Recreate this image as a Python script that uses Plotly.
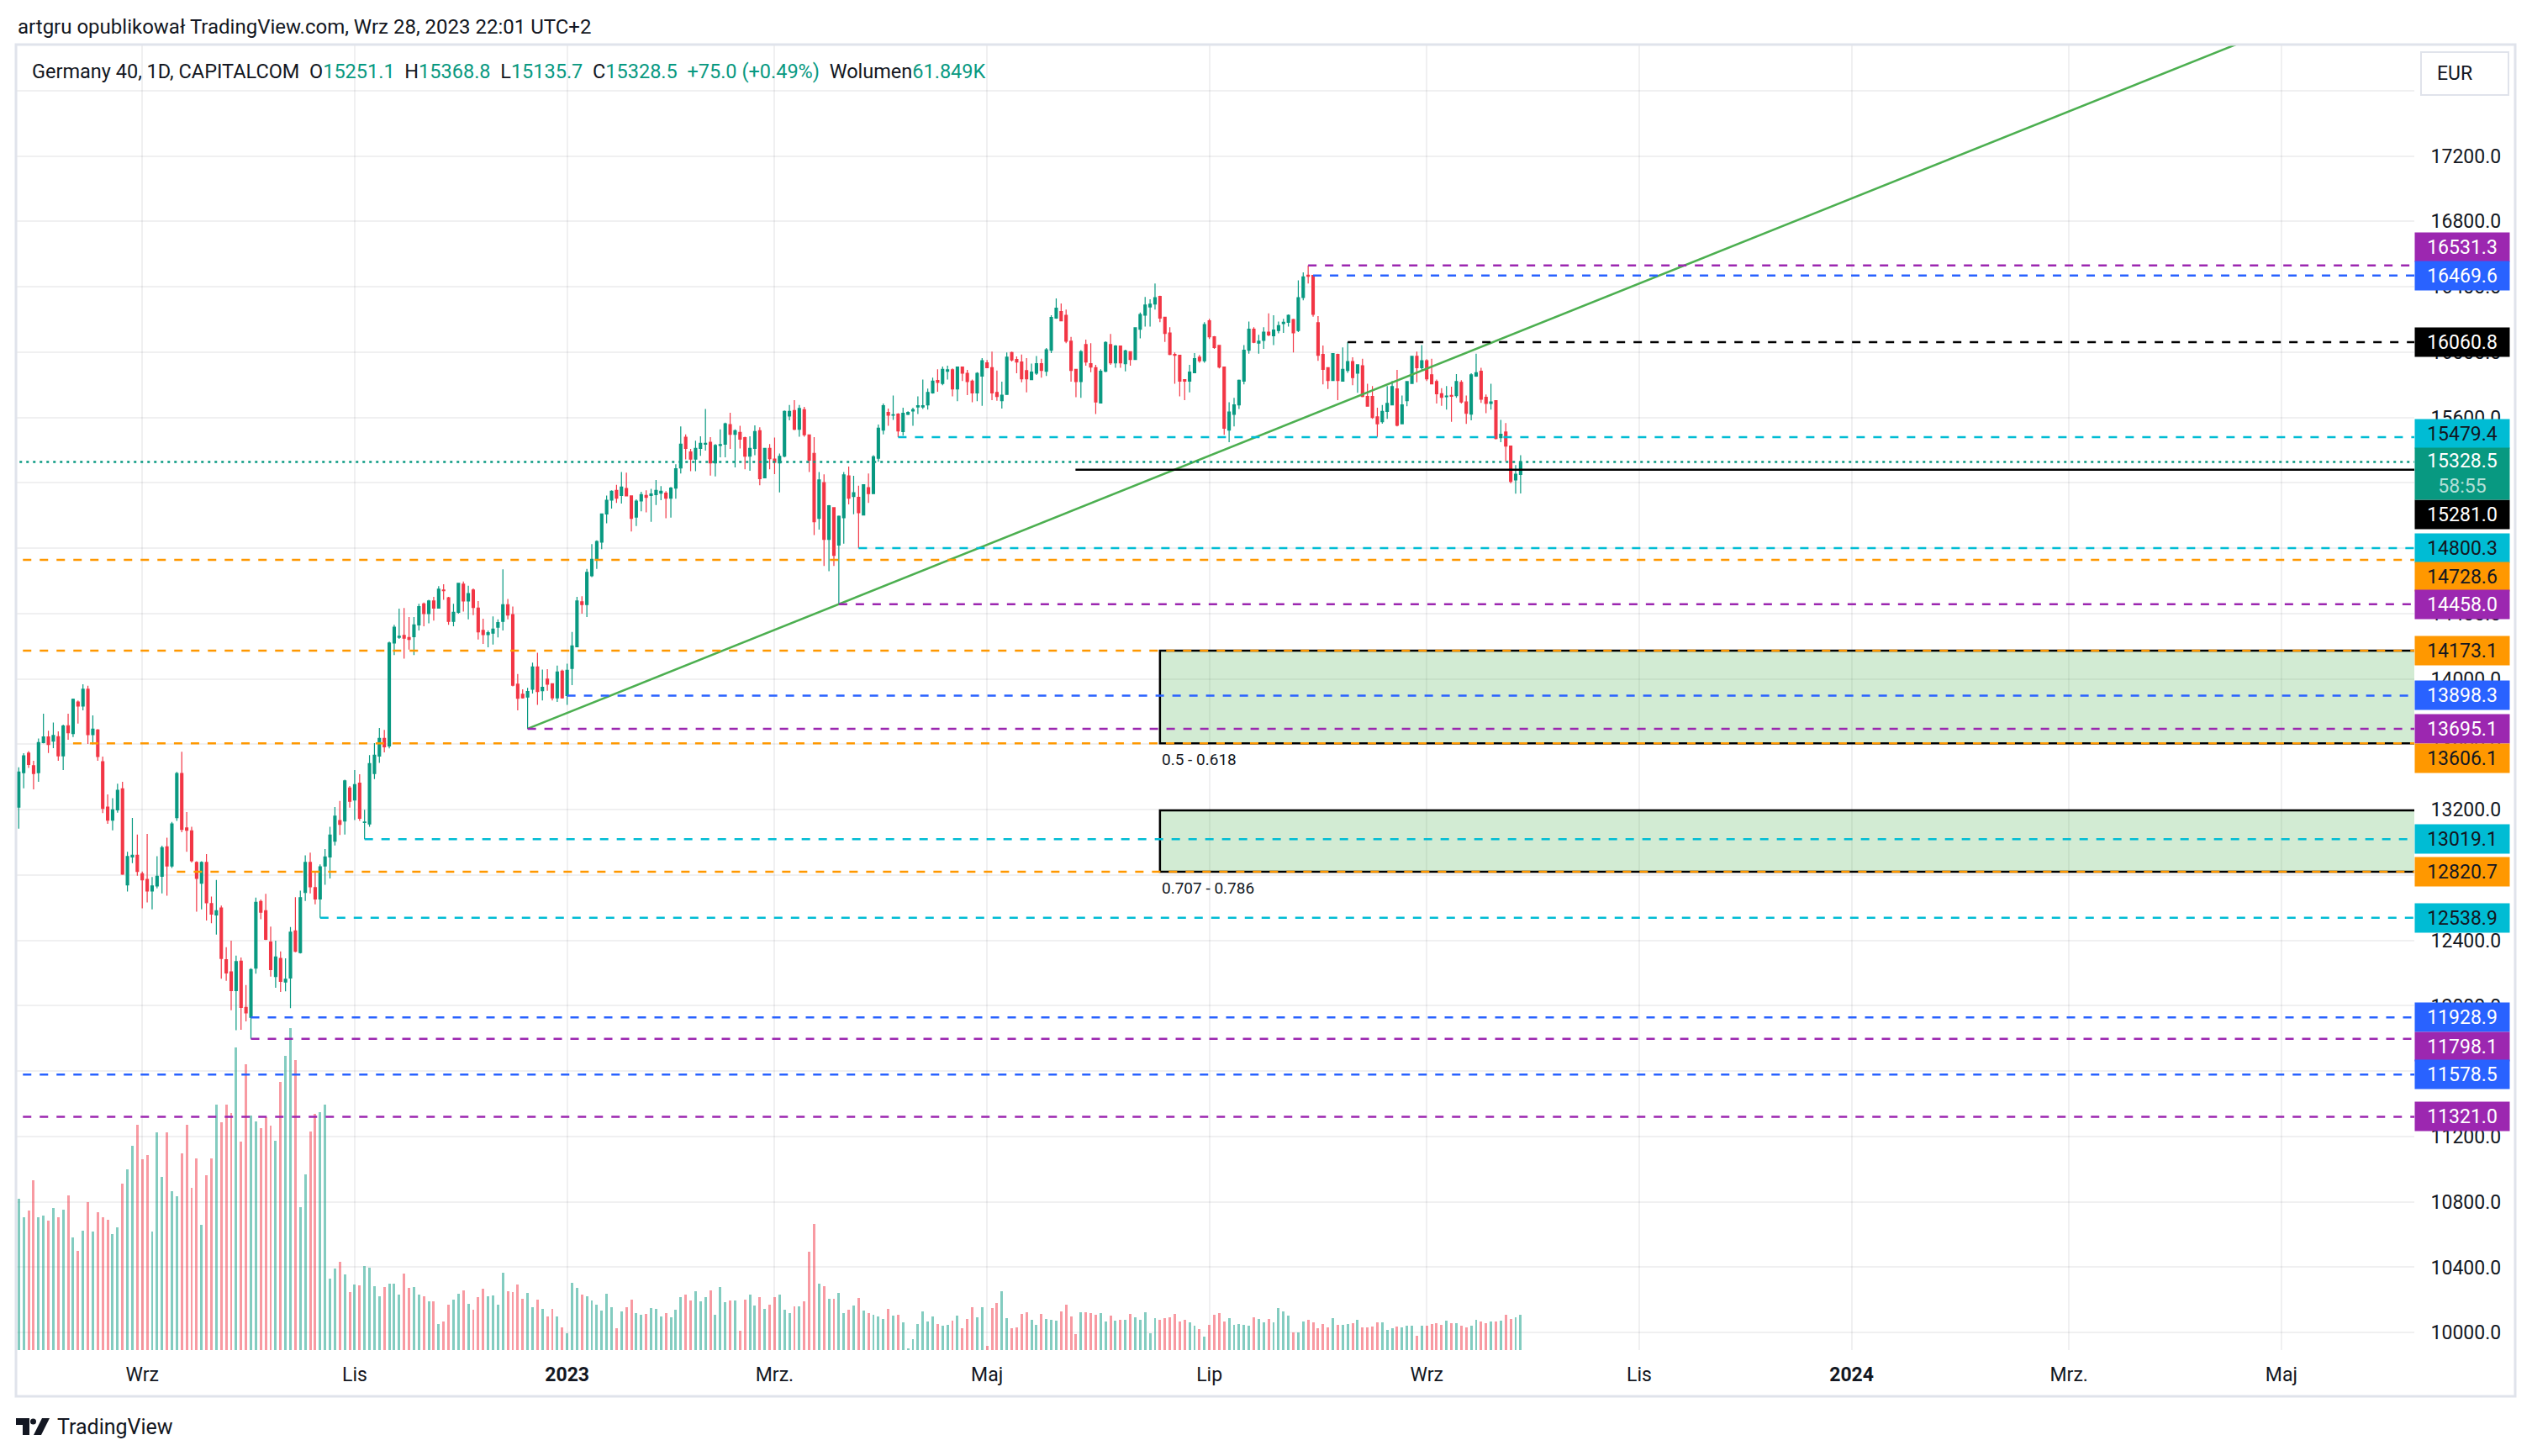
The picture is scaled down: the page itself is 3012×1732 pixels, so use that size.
import plotly.graph_objects as go
import pandas as pd

# ------------------------------------------------------------------ data
title_text = "artgru opublikował TradingView.com, Wrz 28, 2023 22:01 UTC+2"
symbol_text = "Germany 40, 1D, CAPITALCOM"
countdown_text = "58:55"
currency_text = "EUR"

first_day = "2022-07-28"
closed_days = ["2022-12-26"]

opens = [13216,13426,13546,13469,13427,13611,13645,13619,13647,13530,
13714,13666,13859,13834,13937,13659,13688,13494,13216,13136,
13199,13328,12740,12911,12921,12808,12774,12702,12733,12793,
12973,12856,13151,13422,13088,13071,12877,12750,12877,12625,
12556,12599,12282,12208,12093,12273,11990,11928.9,12230,12638,
12582,12390,12179,12290,12145,12170,12458,12325,12693,12877,
12723,12654,12856,12911,13007,13134,13131,13333,13259,13362,
13122,13113,13422,13528,13636,13590,14220,14255,14266,14254,
14259,14331,14460,14400,14477,14434,14545,14497,14352,14408,
14580,14477,14545,14434,14297,14271,14280,14317,14352,14455,
14394,13968,13906,13889,13937,14074,13928,13999,13971,13885,
14048,13898.3,14065,14197,14472,14455,14631,14729,14837,15010,
15094,15154,15123,15166,15120,14991,15089,15123,15123,15128,
15137,15137,15106,15168,15291,15480,15389,15346,15411,15437,
15449,15322,15429,15437,15557,15497,15509,15477,15363,15411,
15519,15231,15411,15346,15322,15363,15609,15643,15528,15648,
15494,15381,14983,15201,14854,15048,14820,14986,15243,15117,
15111,15003,15171,15134,15351,15523,15631,15614,15621,15514,
15620,15640,15665,15665,15677,15751,15827,15809,15883,15892,
15775,15909,15871,15823,15751,15854,15935,15905,15754,15703,
15741,15998,15955,15940,15887,15832,15871,15929,15883,16012,
16209,16248,16226,16067,15895,15820,16046,15929,15905,15689,
15883,16046,15934,16037,15929,16003,15955,16140,16226,16277,
16295,16341,16214,16118,15986,15981,15832,15823,15874,15969,
15947,16192,16094,16041,15909,15523,15620,15677,15823,16012,
16140,16055,16072,16123,16101,16132,16175,16183,16200,16132,
16334,16471,16469.6,16180,15986,15905,15827,15986,15823,15888,
15943,15871,15917,15729,15729,15604,15574,15638,15677,15775,
15562,15703,15809,15974,15905,15947,15862,15820,15746,15727,
15736,15734,15815,15695,15621,15854,15883,15724,15686,15703,
15477,15511,15425,15218,15251.1]

highs = [13460,13546,13559,13499,13636,13787,13683,13734,13679,13721,
13787,13880,13868,13967,13959,13777,13693,13525,13294,13271,
13359,13371,12942,13149,13048,12822,13052,12788,12916,12980,
13028,13125,13431,13554,13186,13096,12885,12885,12928,12668,
12770,12613,12359,12398,12307,12295,12127,12230,12662,12650,
12685,12484,12398,12333,12290,12482,12664,12705,12921,12937,
12817,12865,12959,13096,13216,13254,13384,13345,13443,13417,
13199,13534,13607,13700,13688,14228,14331,14431,14434,14379,
14379,14460,14468,14485,14503,14568,14580,14503,14460,14585,
14597,14571,14554,14477,14369,14297,14383,14365,14671,14489,
14443,14031,13937,13945,14100,14160,14057,14060,13971,14082,
14057,14094,14288,14503,14506,14674,14825,14849,15010,15123,
15154,15188,15267,15262,15123,15099,15146,15154,15163,15218,
15180,15149,15175,15314,15545,15497,15408,15458,15485,15652,
15480,15437,15528,15569,15629,15528,15549,15483,15485,15552,
15540,15415,15437,15477,15380,15643,15677,15706,15677,15665,
15497,15480,15266,15252,15065,15051,15000,15266,15300,15243,
15183,15189,15257,15369,15557,15686,15655,15734,15626,15660,
15638,15660,15729,15832,15777,15844,15895,15912,15917,15900,
15912,15912,15892,15832,15878,15964,15952,16003,15888,15820,
15998,16003,15974,15986,15964,15930,15977,15960,16025,16226,
16329,16298,16260,16094,15895,16012,16077,16055,15923,15895,
16066,16111,16043,16037,16015,16003,16149,16243,16338,16324,
16420,16346,16214,16152,15998,15981,15832,15923,15995,15983,
16183,16204,16098,16041,15912,15694,15720,15832,16043,16187,
16152,16106,16152,16238,16226,16187,16204,16231,16204,16440,
16488,16531.3,16471,16221,16041,15908,15995,15991,16029,16060.8,
15969,15923,15960,15806,15792,15660,15677,15792,15823,15892,
15734,15823,15977,16003,16043,15957,15960,15832,15780,15792,
15789,15866,15828,15734,15871,15991,15905,15741,15806,15706,
15586,15566,15425,15309,15368.8]

lows = [13084,13331,13456,13324,13371,13606,13547,13576,13499,13443,
13628,13645,13727,13808,13602,13600,13499,13179,13113,13074,
13182,12801,12699,12873,12796,12596,12633,12590,12719,12688,
12673,12843,13131,13062,12942,12877,12576,12590,12522,12505,
12436,12165,12153,11973,11850,11853,11905,11798.1,12196,12530,
12402,12179,12110,12085,12088,11985,12328,12320,12642,12688,
12621,12538.9,12741,12779,12981,13045,13048,13213,13136,13131,
13019.1,13096,13388,13487,13551,13575,14146,14245,14125,14180,
14146,14297,14322,14340,14357,14431,14485,14331,14322,14400,
14413,14365,14391,14242,14214,14194,14211,14254,14297,14365,
13954,13808,13880,13695.1,13911,13842,13868,13928,13868,13860,
13880,13842,13962,14194,14400,14379,14623,14674,14794,14952,
15043,15077,15074,15117,14902,14936,15026,15020,14962,15065,
15094,14983,14988,15103,15257,15343,15271,15271,15365,15398,
15245,15240,15357,15357,15408,15295,15411,15283,15274,15369,
15185,15231,15283,15254,15142,15357,15583,15523,15483,15483,
15266,14880,14914,14691,14660,14691,14458.0,14828,15068,15008,
14800.3,15000,15077,15131,15329,15497,15549,15586,15479.4,15489,
15615,15549,15621,15652,15648,15746,15758,15797,15832,15729,
15700,15823,15737,15694,15700,15672,15905,15706,15703,15655,
15741,15943,15871,15815,15754,15832,15861,15844,15854,15995,
16204,16192,16055,15820,15724,15720,15917,15878,15621,15686,
15878,15923,15905,15905,15883,15917,15952,16084,16157,16157,
16260,16183,16063,15981,15806,15729,15706,15754,15871,15935,
15935,16080,16020,15900,15494,15449,15545,15652,15803,15991,
16055,15991,16020,16097,16043,16115,16118,16157,15998,16123,
16317,16420,16217,15947,15803,15775,15823,15706,15823,15874,
15797,15751,15724,15669,15592,15481,15562,15592,15677,15545,
15562,15669,15809,15815,15888,15823,15806,15686,15672,15648,
15574,15720,15686,15561,15583,15849,15689,15626,15648,15466,
15449,15329,15197,15134,15135.7]

closes = [13431,13530,13477,13422,13611,13645,13599,13654,13530,13712,
13671,13875,13834,13937,13659,13693,13525,13208,13136,13199,
13319,12805,12913,12921,12822,12770,12702,12733,12793,12968,
12856,13113,13422,13079,13074,12887,12779,12877,12630,12561,
12582,12290,12201,12093,12270,11990,11956,12222,12633,12573,
12407,12222,12299,12150,12162,12450,12333,12662,12877,12728,
12654,12851,12911,13045,13160,13110,13376,13251,13354,13148,
13125,13482,13534,13636,13585,14220,14317,14262,14249,14242,
14331,14443,14400,14477,14434,14549,14540,14352,14408,14585,
14477,14523,14437,14288,14271,14283,14305,14345,14455,14391,
13962,13882,13885,13923,14074,13923,13949,13968,13885,14043,
13885,14053,14202,14477,14455,14652,14732,14842,15010,15094,
15149,15106,15175,15120,14983,15089,15128,15111,15132,15154,
15149,15106,15168,15286,15437,15411,15346,15411,15442,15442,
15322,15429,15434,15562,15497,15519,15468,15363,15411,15514,
15226,15411,15348,15326,15363,15638,15638,15528,15655,15494,
15339,14962,15218,14854,15060,14756,14996,15249,15106,15140,
15017,15189,15134,15360,15535,15672,15614,15617,15518,15626,
15631,15648,15672,15672,15754,15823,15815,15895,15892,15775,
15909,15871,15820,15751,15871,15947,15905,15751,15729,15737,
15969,15952,15940,15837,15837,15878,15929,15888,16015,16212,
16269,16192,16067,15888,15820,16003,15940,15909,15695,15883,
16060,15934,16037,15934,16008,15955,16149,16231,16289,16294,
16334,16209,16115,15986,15981,15823,15823,15878,15960,15947,
16169,16094,16029,15909,15535,15634,15677,15828,16012,16140,
16060,16067,16123,16106,16135,16163,16183,16226,16118,16334,
16461,16464,16231,15981,15895,15827,15991,15827,15895,15943,
15844,15923,15729,15669,15600,15562,15638,15686,15789,15552,
15677,15820,15974,15905,15947,15837,15806,15746,15724,15731,
15730,15820,15695,15626,15861,15874,15712,15686,15695,15472,
15497,15425,15209,15253.5,15328.5]

volumes_k = [265,233,244,298,233,236,227,249,233,246,
271,197,174,209,259,208,242,233,228,203,
215,292,317,358,395,334,342,208,381,303,
381,278,270,345,395,284,336,219,306,336,
430,399,430,415,530,365,501,411,401,389,
408,393,367,470,515,564,508,250,308,383,
414,417,430,125,143,155,133,102,115,113,
147,144,112,94,110,116,116,97,134,109,
110,97,94,85,85,46,50,80,88,99,
105,81,71,93,108,94,96,80,135,103,
102,115,90,100,75,88,72,59,72,59,
40,29,118,109,97,94,87,80,69,99,
75,38,68,75,88,65,62,63,74,72,
59,65,57,71,93,97,87,103,85,93,
105,62,110,84,87,87,34,88,97,78,
93,72,80,93,97,71,65,77,77,85,
172,221,116,112,90,90,100,65,71,78,
91,69,65,62,59,54,72,60,62,49,
3,19,46,68,50,59,46,43,44,52,
60,38,54,75,57,75,7,74,82,103,
56,38,40,63,66,53,44,63,54,53,
52,68,80,59,28,66,66,65,62,65,
50,60,52,53,53,63,57,53,66,29,
56,53,56,57,63,50,53,49,43,37,
24,44,62,65,50,56,44,46,44,43,
57,54,49,54,49,74,68,60,31,31,
50,53,49,38,46,40,56,44,44,46,
47,53,40,40,41,49,49,35,38,41,
40,43,43,25,43,43,46,47,44,52,
47,47,43,40,43,53,50,47,50,50,
52,62,55,58,61.849]

tick_months = ["2022-09-01", "2022-11-01", "2023-01-01", "2023-03-01", "2023-05-01", "2023-07-01",
               "2023-09-01", "2023-11-01", "2024-01-01", "2024-03-01", "2024-05-01"]
tick_labels = ["Wrz", "Lis", "<b>2023</b>", "Mrz.", "Maj", "Lip",
               "Wrz", "Lis", "<b>2024</b>", "Mrz.", "Maj"]

price_ticks = list(range(10000, 17601, 400))

# horizontal levels: price, first bar index (None = from the left edge), kind
level_prices = [16531.3, 16469.6, 16060.8, 15479.4, 15281.0, 14800.3, 14728.6, 14458.0, 14173.1,
                13898.3, 13695.1, 13606.1, 13019.1, 12820.7, 12538.9, 11928.9, 11798.1, 11578.5, 11321.0]
level_start = [261, 262, 269, 178, 213.9, 170, None, 166, None,
               111, 103, 11, 70, 32, 61, 47, 47, None, None]
level_kind = ["purple", "blue", "black", "cyan", "solid", "cyan", "orange", "purple", "orange",
              "blue", "purple", "orange", "cyan", "orange", "cyan", "blue", "purple", "blue", "purple"]

# trend line anchors (bar index, price)
trend_idx = [103, 460]
trend_price = [13695.1, 18018.4]

# fibonacci zones: start bar, bottom, top, caption
zone_start = [231.0, 231.0]
zone_bottom = [13606.1, 12820.7]
zone_top = [14173.1, 13196.0]
zone_caption = ["0.5 - 0.618", "0.707 - 0.786"]

# ------------------------------------------------------------------ style
FONT = "Roboto"
TXT = "#131722"
UP = "#089981"
DOWN = "#f23645"
GRID = "rgba(42,46,57,0.07)"
KIND_COLOR = {"purple": "#9c27b0", "blue": "#2962ff", "black": "#000000", "solid": "#000000",
              "cyan": "#00bcd4", "orange": "#ff9800"}
KIND_TEXT = {"purple": "white", "blue": "white", "black": "white", "solid": "white",
             "cyan": TXT, "orange": TXT}
# vertical nudges (px, + = up) applied to axis labels so they do not overlap
LABEL_SHIFT = {16531.3: 21.7, 15479.4: 4.5, 15281.0: -53.4, 14728.6: -20.3,
               13606.1: -17.8, 11798.1: -8.9}

W, H = 3012, 1732
ML, MR, MT, MB = 19, 140, 54, 126
PW, PH = W - ML - MR, H - MT - MB
X_RANGE = [-0.56, 484.9]
Y_RANGE = [9893.0, 17877.3]


def pxx(x):
    return (x - ML) / PW


def pxy(y):
    return (MT + PH - y) / PH


# ------------------------------------------------------------------ derived
n = len(closes)
bars = list(range(n))
days = pd.bdate_range(first_day, "2024-08-30")
days = days[~days.isin(pd.to_datetime(closed_days))]
tickvals = [int(days.searchsorted(pd.Timestamp(m))) for m in tick_months]

vol_colors = ["rgba(8,153,129,0.5)" if c >= o else "rgba(242,54,69,0.5)" for o, c in zip(opens, closes)]

fig = go.Figure()
fig.add_trace(go.Bar(x=bars, y=volumes_k, width=0.5, yaxis="y2",
                     marker=dict(color=vol_colors, line=dict(width=0)), hoverinfo="skip"))
fig.add_trace(go.Candlestick(x=bars, open=opens, high=highs, low=lows, close=closes,
                             increasing=dict(line=dict(color=UP, width=1.2), fillcolor=UP),
                             decreasing=dict(line=dict(color=DOWN, width=1.2), fillcolor=DOWN),
                             whiskerwidth=0, hoverinfo="skip"))
fig.add_trace(go.Scatter(x=trend_idx, y=trend_price, mode="lines",
                         line=dict(color="#4caf50", width=2.5), hoverinfo="skip"))

shapes = []
# fib zones
for s, b, t in zip(zone_start, zone_bottom, zone_top):
    shapes.append(dict(type="rect", xref="x", yref="y", x0=s, x1=X_RANGE[1] + 20, y0=b, y1=t,
                       fillcolor="rgba(76,175,80,0.25)", line=dict(color="black", width=2.5),
                       layer="above"))
# levels
for p, s, k in zip(level_prices, level_start, level_kind):
    x0 = X_RANGE[0] - 2 if s is None else s
    dash = "solid" if k == "solid" else "10px,10px"
    shapes.append(dict(type="line", xref="x", yref="y", x0=x0, x1=X_RANGE[1] + 20, y0=p, y1=p,
                       line=dict(color=KIND_COLOR[k], width=2.5, dash=dash), layer="above"))
# last price dotted line
last = closes[-1]
shapes.append(dict(type="line", xref="x", yref="y", x0=X_RANGE[0] - 2, x1=X_RANGE[1] + 20, y0=last, y1=last,
                   line=dict(color=UP, width=2.5, dash="3px,5px"), layer="above"))
# pane border
shapes.append(dict(type="rect", xref="paper", yref="paper", x0=pxx(19), x1=pxx(2992), y0=pxy(1661), y1=pxy(53),
                   line=dict(color="#e0e3eb", width=3), fillcolor="rgba(0,0,0,0)", layer="above"))
# currency button
shapes.append(dict(type="rect", xref="paper", yref="paper", x0=pxx(2880), x1=pxx(2984), y0=pxy(113), y1=pxy(62),
                   line=dict(color="#e0e3eb", width=2), fillcolor="white", layer="above"))
# TradingView logo
def path(pts):
    return "M " + " L ".join(f"{pxx(a):.5f},{pxy(b):.5f}" for a, b in pts) + " Z"
shapes.append(dict(type="path", xref="paper", yref="paper", layer="above", line=dict(width=0), fillcolor=TXT,
                   path=path([(19, 1687), (35, 1687), (35, 1707), (27, 1707), (27, 1695), (19, 1695)])))
shapes.append(dict(type="circle", xref="paper", yref="paper", layer="above", line=dict(width=0), fillcolor=TXT,
                   x0=pxx(36), x1=pxx(43), y0=pxy(1694.5), y1=pxy(1687.5)))
shapes.append(dict(type="path", xref="paper", yref="paper", layer="above", line=dict(width=0), fillcolor=TXT,
                   path=path([(40, 1707), (49, 1707), (59, 1687), (50, 1687)])))

annotations = []
# title
annotations.append(dict(xref="paper", yref="paper", x=pxx(19), y=pxy(32), xanchor="left", yanchor="middle",
                        text=title_text, showarrow=False, font=dict(family=FONT, size=24, color=TXT)))
# legend line
g = lambda s: f"<span style='color:{UP}'>{s}</span>"
sp = "\u00a0\u00a0"
chg = closes[-1] - closes[-2]
pct = chg / closes[-2] * 100
legend = (symbol_text + sp + "O" + g(f"{opens[-1]:.1f}") + sp + "H" + g(f"{highs[-1]:.1f}") + sp +
          "L" + g(f"{lows[-1]:.1f}") + sp + "C" + g(f"{closes[-1]:.1f}") + sp +
          g(f"{chg:+.1f} ({pct:+.2f}%)") + sp + "Wolumen" + g(f"{volumes_k[-1]:.3f}K"))
annotations.append(dict(xref="paper", yref="paper", x=pxx(36), y=pxy(85), xanchor="left", yanchor="middle",
                        text=legend, showarrow=False, font=dict(family=FONT, size=23.5, color=TXT)))
# EUR
annotations.append(dict(xref="paper", yref="paper", x=pxx(2920), y=pxy(87.5), xanchor="center", yanchor="middle",
                        text=currency_text, showarrow=False, font=dict(family=FONT, size=23, color=TXT)))
# TradingView word
annotations.append(dict(xref="paper", yref="paper", x=pxx(66), y=pxy(1697), xanchor="left", yanchor="middle",
                        text="TradingView", showarrow=False, font=dict(family=FONT, size=25, color=TXT)))
# zone captions
for s, b, cap in zip(zone_start, zone_bottom, zone_caption):
    annotations.append(dict(xref="x", yref="y", x=s, y=b, xanchor="left", yanchor="top", yshift=-6,
                            text=cap, showarrow=False, font=dict(family=FONT, size=19, color=TXT)))
# axis price labels
for p, k in zip(level_prices, level_kind):
    annotations.append(dict(xref="paper", yref="y", x=1.0, y=p, xanchor="left", yanchor="middle",
                            yshift=LABEL_SHIFT.get(p, 0), text=f"{p:.1f}", showarrow=False,
                            bgcolor=KIND_COLOR[k], width=110, height=32, borderpad=1, align="center",
                            font=dict(family=FONT, size=23, color=KIND_TEXT[k])))
annotations.append(dict(xref="paper", yref="y", x=1.0, y=last, xanchor="left", yanchor="middle", yshift=-14,
                        text=f"{last:.1f}<br><span style='color:rgba(255,255,255,0.7)'>{countdown_text}</span>",
                        showarrow=False, bgcolor=UP, width=110, height=59, borderpad=1, align="center",
                        font=dict(family=FONT, size=23, color="white")))

fig.update_layout(
    width=W, height=H, margin=dict(l=ML, r=MR, t=MT, b=MB),
    paper_bgcolor="white", plot_bgcolor="white", showlegend=False, bargap=0,
    xaxis=dict(range=X_RANGE, tickmode="array", tickvals=tickvals, ticktext=tick_labels,
               showgrid=True, gridcolor=GRID, gridwidth=2, zeroline=False, showline=False,
               ticks="outside", ticklen=8, tickcolor="rgba(0,0,0,0)",
               tickfont=dict(family=FONT, size=23, color=TXT), rangeslider=dict(visible=False)),
    yaxis=dict(range=Y_RANGE, side="right", tickmode="array", tickvals=price_ticks,
               ticktext=[f"{v:.1f}" if v <= 17200 else "" for v in price_ticks],
               showgrid=True, gridcolor=GRID, gridwidth=2, zeroline=False, showline=False,
               ticks="outside", ticklen=14, tickcolor="rgba(0,0,0,0)",
               tickfont=dict(family=FONT, size=23, color=TXT)),
    yaxis2=dict(overlaying="y", range=[0, PH / 0.679], visible=False),
    shapes=shapes, annotations=annotations,
)

fig.write_html("out.html")
